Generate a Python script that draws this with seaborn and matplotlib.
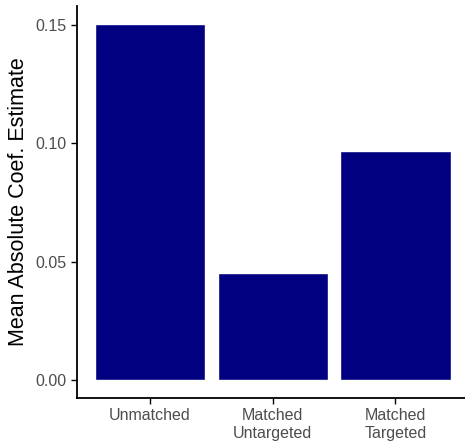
import matplotlib
matplotlib.use("Agg")
import matplotlib.pyplot as plt
import pandas as pd
import seaborn as sns

# data
groups = ["Unmatched", "Matched\nUntargeted", "Matched\nTargeted"]
mean_abs_coef = [0.1503, 0.0451, 0.0967]

df = pd.DataFrame({"Group": groups, "Estimate": mean_abs_coef})

sns.set_style("ticks")
plt.rcParams["font.family"] = ["Liberation Sans", "DejaVu Sans"]

fig = plt.figure(figsize=(4.65, 4.41), dpi=100)
# panel placed to match the reference pixels (right edge runs off the image, as in the original)
ax = fig.add_axes([76.5 / 465, 1 - 398 / 441, (469 - 76.5) / 465, (398 - 6) / 441])

sns.barplot(data=df, x="Group", y="Estimate", color="#000080", saturation=1,
            width=0.9, ax=ax)

# ggplot-like expansion: 0.6 on discrete x, 5% on y
top = max(mean_abs_coef)
ax.set_xlim(-0.6, 2.6)
ax.set_ylim(-0.05 * top, 1.05 * top)
ax.set_yticks([0.0, 0.05, 0.10, 0.15])
ax.set_yticklabels(["0.00", "0.05", "0.10", "0.15"])
ax.set_xlabel("")
ax.set_ylabel("Mean Absolute Coef. Estimate", fontsize=15.5, color="black",
              labelpad=4)
ax.tick_params(axis="both", labelsize=11.5, labelcolor="#4D4D4D", color="black",
               length=4, width=1)
sns.despine(ax=ax)
for side in ["left", "bottom"]:
    ax.spines[side].set_linewidth(1.3)
    ax.spines[side].set_color("black")

fig.savefig("out.png", dpi=100)
